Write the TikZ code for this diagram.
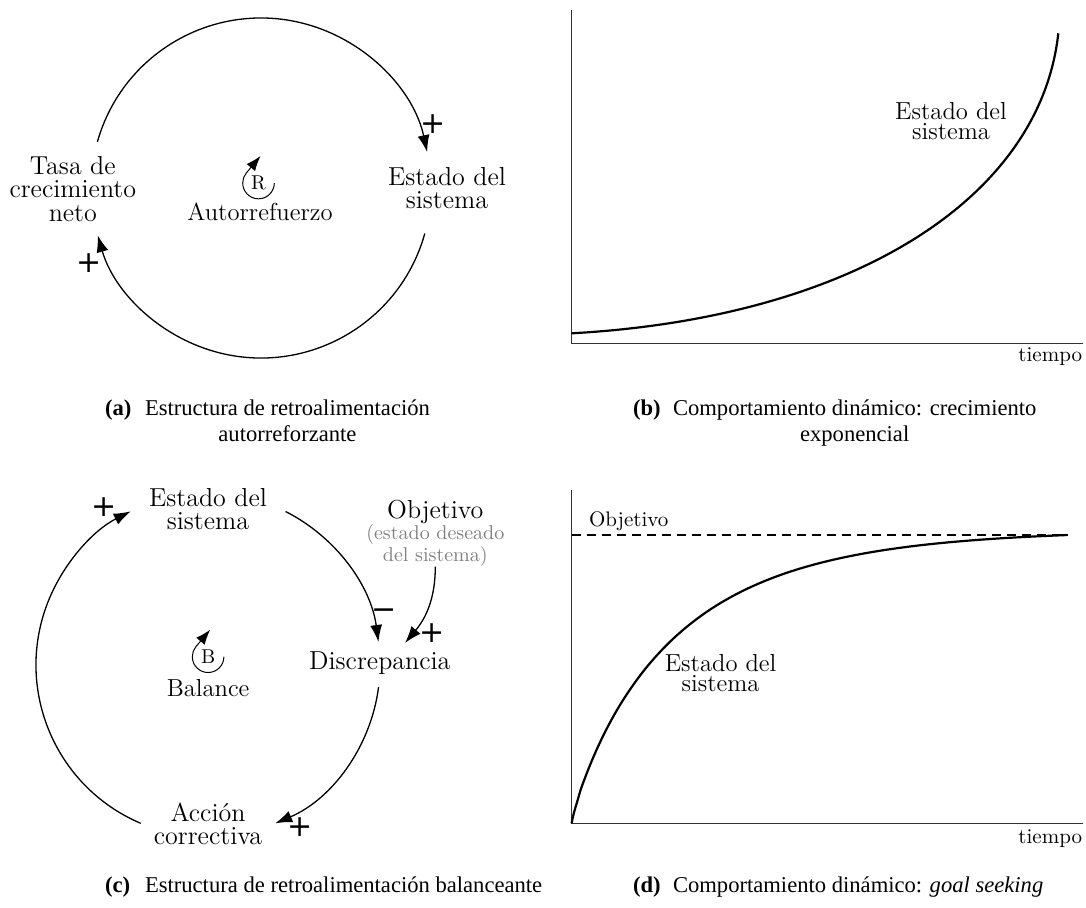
\documentclass[tikz,border=0pt]{standalone}
\usepackage{fontspec}
\usetikzlibrary{arrows.meta}
\newfontfamily\capfont{Liberation Serif}
\newfontfamily\signfont{DejaVu Sans}
\begin{document}
\begin{tikzpicture}[x=0.5pt,y=-0.5pt,
  every node/.style={inner sep=0pt, outer sep=0pt},
  var/.style={align=center, font=\fontsize{13}{11.6}\selectfont},
  looplbl/.style={align=center, font=\fontsize{12.3}{11.6}\selectfont},
  gvar/.style={align=center, font=\fontsize{12.3}{10}\selectfont},
  sub/.style={align=center, font=\fontsize{10}{9.8}\selectfont, text=black!50},
  axlbl/.style={font=\fontsize{10.5}{10.5}\selectfont},
  sign/.style={font=\signfont\fontsize{15}{15}\selectfont},
  link/.style={line width=0.65pt, -{Latex[length=8.5pt,width=6pt]}},
  looparr/.style={line width=0.5pt, -{Latex[length=7.5pt,width=5.5pt]}},
  axisline/.style={line width=0.8pt, draw=black!80},
  curve/.style={line width=1.1pt},
  captext/.style={font=\capfont\fontsize{11.3}{13}\selectfont}
]
\useasboundingbox (0,0) rectangle (1086,907);

% ---------- (a) ----------
\coordinate (ca) at (261,188);
\node[var] (tasa) at (72.8,189) {Tasa de\\crecimiento\\neto};
\node[var] (estA) at (447,188) {Estado del\\sistema};
\path (ca) ++(164.2:85pt) coordinate (a1);
\path (ca) ++(-15.5:85pt) coordinate (a2);
\draw[link] (a1) arc[start angle=164.2, end angle=12.2, radius=85pt];
\draw[link] (a2) arc[start angle=-15.5, end angle=-163.9, radius=85pt];
\node[sign] (pa1) at (433,124) {+};
\node[sign] (pa2) at (89.5,263.3) {+};
\node[font=\fontsize{10}{10}\selectfont] (R) at (258.5,183) {R};
\path (R.center) ++(0:7.9pt) coordinate (r0);
\draw[looparr] (r0) arc[start angle=0, end angle=-220, radius=7.9pt] -- ++(50:11pt);
\node[looplbl] (auto) at (260,211.7) {Autorrefuerzo};

% ---------- (b) ----------
\draw[axisline] (571.6,10) -- (571.6,343.3) -- (1082.5,343.3);
\draw[curve] (571.6,333.3) .. controls (850,318) and (1040,200) .. (1058.3,33.3);
\node[gvar] (estB) at (951,121) {Estado del\\sistema};
\node[axlbl, anchor=east] (tB) at (1082,356.7) {tiempo};

% ---------- (c) ----------
\coordinate (cc) at (208,665);
\node[var] (estC) at (208,509) {Estado del\\sistema};
\node[var] (obj) at (435.3,511.7) {Objetivo};
\node[sub] (objsub) at (435.3,545.5) {(estado deseado\\del sistema)};
\node[var] (disc) at (379.8,663.3) {Discrepancia};
\node[var] (acc) at (208,824) {Acción\\correctiva};
\path (cc) ++(247:86pt) coordinate (c1);
\path (cc) ++(63.2:86pt) coordinate (c2);
\path (cc) ++(-7.3:86pt) coordinate (c3);
\draw[link] (c1) arc[start angle=247, end angle=116.7, radius=86pt];
\draw[link] (c2) arc[start angle=63.2, end angle=7.7, radius=86pt];
\draw[link] (c3) arc[start angle=-7.3, end angle=-67, radius=86pt];
\coordinate (o1) at (435.3,566.7);
\coordinate (o2) at (405,643);
\draw[link] (o1) to[out=-90, in=50] (o2);
\node[sign] (pc1) at (104,506.7) {+};
\node[sign] (mc) at (384,614) {−};
\node[sign] (pc2) at (431.7,633.3) {+};
\node[sign] (pc3) at (300,826.7) {+};
\node[font=\fontsize{10}{10}\selectfont] (B) at (208.1,656.7) {B};
\path (B.center) ++(0:7.9pt) coordinate (b0);
\draw[looparr] (b0) arc[start angle=0, end angle=-220, radius=7.9pt] -- ++(50:11pt);
\node[looplbl] (bal) at (208.1,688.3) {Balance};

% ---------- (d) ----------
\draw[axisline] (571.6,490) -- (571.6,823.3) -- (1082.8,823.3);
\draw[line width=0.7pt, dash pattern=on 4.5pt off 3pt] (571.6,535) -- (1067.7,535);
\node[axlbl, anchor=west] (objD) at (589,521.7) {Objetivo};
\draw[curve] plot[smooth, domain=0:1, samples=45, variable=\u]
  ({571.6+496.1*\u*\u}, {823.3-288.3*(1-exp(-4*exp(1.76*ln(max(\u,0.0001)))))/0.98168});
\node[gvar] (estD) at (720.6,673.3) {Estado del\\sistema};
\node[axlbl, anchor=east] (tD) at (1082,838.3) {tiempo};

% ---------- captions ----------
\node[captext, anchor=base west] (la) at (105,415) {\textbf{(a)}};
\node[captext, anchor=base west] (ta) at (145,415) {Estructura de retroalimentación};
\path (ta.base) ++(0,26) node[captext, anchor=base] (ta2) {autorreforzante};
\node[captext, anchor=base west] (lb) at (633,415) {\textbf{(b)}};
\node[captext, anchor=base west] (tb) at (673,415) {Comportamiento dinámico: crecimiento};
\path (tb.base) ++(0,26) node[captext, anchor=base] (tb2) {exponencial};
\node[captext, anchor=base west] (lc) at (105,892) {\textbf{(c)}};
\node[captext, anchor=base west] (tc) at (145,892) {Estructura de retroalimentación balanceante};
\node[captext, anchor=base west] (ld) at (633,892) {\textbf{(d)}};
\node[captext, anchor=base west] (td) at (673,892) {Comportamiento dinámico: \textit{goal seeking}};
\end{tikzpicture}
\end{document}
